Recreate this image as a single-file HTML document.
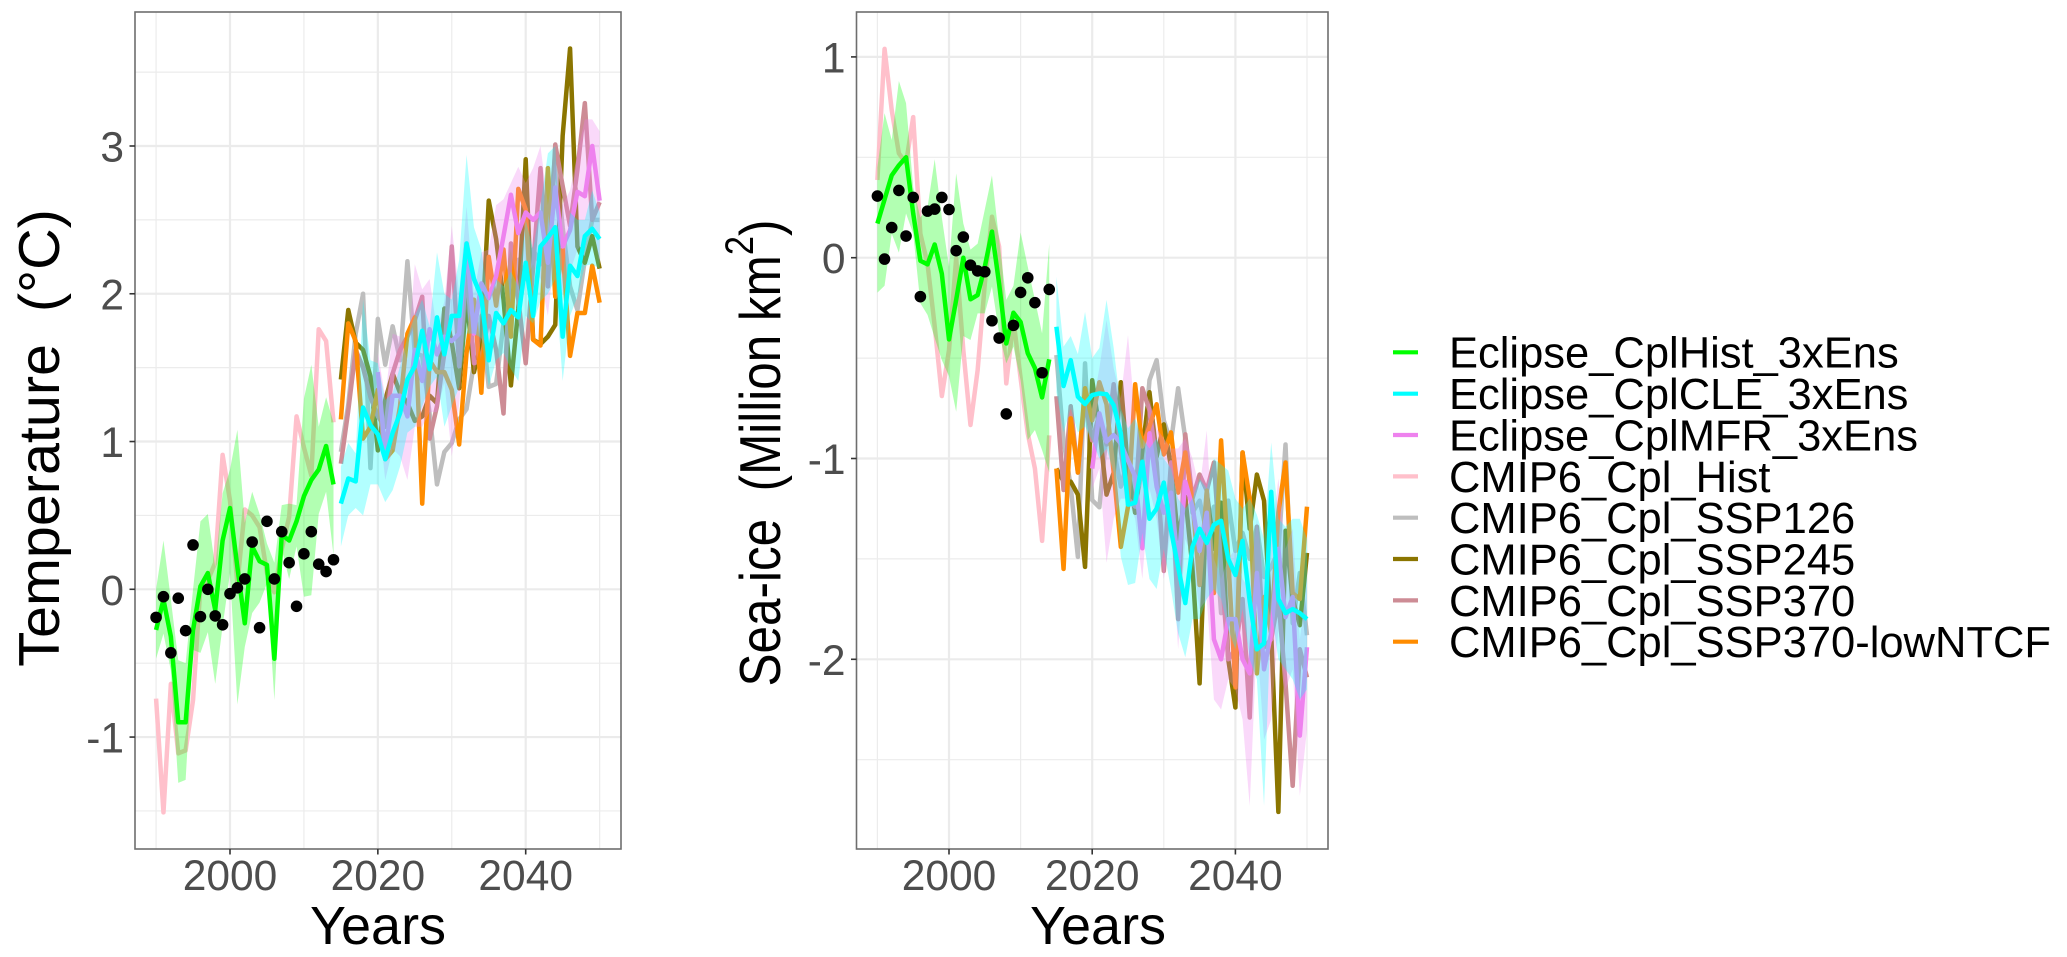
<!DOCTYPE html>
<html lang="en">
<head>
<meta charset="utf-8">
<title>Temperature and sea-ice projections</title>
<style>
html,body{margin:0;padding:0;background:#fff;}
svg{display:block;font-family:"Liberation Sans",sans-serif;}
text{white-space:pre;}
</style>
</head>
<body>
<svg id="figure" xmlns="http://www.w3.org/2000/svg" width="2067" height="957" viewBox="0 0 2067 957">
  <rect x="0" y="0" width="2067" height="957" fill="#ffffff"/>
  <g id="panel-temp"></g>
  <g id="panel-ice"></g>

  <text transform="translate(59,438) rotate(-90)" text-anchor="middle" font-size="57.5" fill="#000">Temperature  (°C)</text>
  <text transform="translate(780,453) rotate(-90) scale(0.86,1)" text-anchor="middle" font-size="57.5" fill="#000">Sea-ice  (Million km<tspan font-size="40" dy="-27">2</tspan><tspan dy="27">)</tspan></text>
  <text x="378" y="944" text-anchor="middle" font-size="54" fill="#000">Years</text>
  <text x="1098" y="944" text-anchor="middle" font-size="54" fill="#000">Years</text>

  <g font-size="43.5" fill="#000">
    <g><line x1="1393" x2="1418" y1="352.3" y2="352.3" stroke="#00ff00" stroke-width="4.2"/><text x="1449" y="367.7">Eclipse_CplHist_3xEns</text></g>
    <g><line x1="1393" x2="1418" y1="393.7" y2="393.7" stroke="#00ffff" stroke-width="4.2"/><text x="1449" y="409">Eclipse_CplCLE_3xEns</text></g>
    <g><line x1="1393" x2="1418" y1="435" y2="435" stroke="#ee82ee" stroke-width="4.2"/><text x="1449" y="450.4">Eclipse_CplMFR_3xEns</text></g>
    <g><line x1="1393" x2="1418" y1="476.4" y2="476.4" stroke="#ffc0cb" stroke-width="4.2"/><text x="1449" y="491.8">CMIP6_Cpl_Hist</text></g>
    <g><line x1="1393" x2="1418" y1="517.7" y2="517.7" stroke="#bebebe" stroke-width="4.2"/><text x="1449" y="533.1">CMIP6_Cpl_SSP126</text></g>
    <g><line x1="1393" x2="1418" y1="559" y2="559" stroke="#8b7500" stroke-width="4.2"/><text x="1449" y="574.5">CMIP6_Cpl_SSP245</text></g>
    <g><line x1="1393" x2="1418" y1="600.4" y2="600.4" stroke="#cd8c95" stroke-width="4.2"/><text x="1449" y="615.8">CMIP6_Cpl_SSP370</text></g>
    <g><line x1="1393" x2="1418" y1="641.7" y2="641.7" stroke="#ff8c00" stroke-width="4.2"/><text x="1449" y="657.2">CMIP6_Cpl_SSP370-lowNTCF</text></g>
  </g>
</svg>

<script>
// ---- axis tick values ----
const xMajorTicks = [2000, 2020, 2040];
const xMinorTicks = [1990, 2010, 2030, 2050];
const tempYMajor = [-1, 0, 1, 2, 3];
const tempYMinor = [-1.5, -0.5, 0.5, 1.5, 2.5, 3.5];
const iceYMajor = [-2, -1, 0, 1];
const iceYMinor = [-2.5, -1.5, -0.5, 0.5];

// ---- series start years ----
const histStart = 1990;
const scenarioStart = 2015;
const mfrStart = 2020;

// ---- temperature, 1990-2014 ----
const tempObs = [-0.19,-0.05,-0.43,-0.06,-0.28,0.30,-0.185,0,-0.18,-0.24,-0.03,0.01,0.07,0.32,-0.26,0.46,0.07,0.39,0.18,-0.115,0.24,0.39,0.17,0.12,0.20];
const tempCplHist = [-0.275,-0.07,-0.32,-0.90,-0.90,-0.275,0.02,0.11,-0.14,0.33,0.55,0.15,-0.23,0.29,0.19,0.165,-0.47,0.37,0.33,0.46,0.63,0.74,0.81,0.97,0.71];
const tempCplHistUpper = [0,0.33,-0.07,-0.48,-0.5,0,0.46,0.51,0.15,0.65,0.81,1.08,0.45,0.66,0.51,0.31,0.18,0.57,0.58,0.57,1.29,1.52,1.10,1.30,1.13];
const tempCplHistLower = [-0.47,-0.3,-0.55,-1.31,-1.29,-0.41,-0.43,-0.29,-0.64,-0.25,0.11,-0.78,-0.39,-0.16,-0.09,0.04,-0.75,0.27,0.07,0.29,-0.05,-0.04,0.51,0.66,0.23];
const tempCmipHist = [-0.74,-1.51,-0.64,-1.11,-1.09,-0.75,0.02,0.06,0.18,0.91,0.6,0.04,0.54,0.50,0.42,0.11,-0.02,0.27,0.49,1.17,0.96,0.77,1.76,1.68,1.13];

// ---- temperature, 2015-2050 ----
const tempCle = [0.58,0.75,0.73,1.23,1.11,1.05,0.88,1.06,1.19,1.42,1.51,1.75,1.49,1.84,1.59,1.85,1.85,2.34,2.10,1.98,1.55,1.87,1.80,1.89,1.84,2.21,1.85,2.32,2.38,2.45,1.71,2.19,2.12,2.39,2.44,2.37];
const tempCleUpper = [0.83,0.99,0.92,1.96,1.55,1.53,1.28,1.33,1.51,1.71,1.85,1.96,1.78,2.28,2.0,1.96,2.23,2.94,2.45,2.3,1.95,2.1,2.05,2.15,2.05,2.5,2.3,2.6,2.95,3.0,2.1,2.55,2.5,2.5,2.7,2.55];
const tempCleLower = [0.29,0.50,0.55,0.50,0.71,0.71,0.59,0.67,0.83,1.06,1.1,1.24,1.37,1.44,1.1,1.24,1.37,1.73,1.73,1.7,1.37,1.55,1.6,1.49,1.41,1.85,1.80,1.95,2.0,2.1,1.41,1.85,1.98,2.19,2.2,2.17];
const tempSsp126 = [0.93,1.25,1.73,2.0,0.82,1.83,1.52,1.78,1.55,2.22,1.6,1.58,1.19,0.71,0.93,0.99,1.15,1.22,1.53,1.85,1.37,1.39,1.8,1.87,2.23,2.1,2.3,2.2,2.4,2.95,2.45,2.05,1.89,2.23,2.5,2.5];
const tempSsp245 = [1.42,1.89,1.67,1.62,1.44,0.94,1.28,1.46,1.33,1.26,1.14,1.17,1.31,1.26,1.9,1.67,1.36,1.98,1.47,1.67,2.63,2.37,1.96,1.38,1.9,2.91,1.69,1.66,1.71,1.79,3.07,3.66,2.32,2.21,2.39,2.17];
const tempSsp370 = [0.85,1.21,1.62,1.5,1.3,1.17,1.1,1.46,1.62,1.71,1.82,1.98,1.02,1.24,1.6,2.32,1.51,2.18,1.53,1.55,1.85,1.62,1.19,2.34,1.96,1.53,2.18,2.85,2.05,3.01,2.73,2.46,2.84,3.29,2.50,2.62];
const tempLowNtcf = [1.15,1.80,1.68,1.02,1.10,1.35,0.88,0.94,1.24,1.73,1.84,0.58,1.55,1.47,1.47,1.35,0.98,1.6,1.96,1.33,2.25,1.92,2.30,1.71,2.71,2.57,1.69,1.65,2.85,1.98,2.30,1.58,1.87,1.87,2.19,1.94];

// ---- temperature, 2020-2050 ----
const tempMfr = [1.47,0.92,1.31,1.31,1.17,1.62,1.41,1.76,1.59,1.71,1.68,1.73,2.34,1.73,2.07,1.97,2.12,2.39,2.67,2.41,2.55,2.50,2.55,2.21,2.72,2.32,2.43,2.69,2.66,3.00,2.63];
const tempMfrUpper = [1.6,1.3,1.73,1.71,1.55,2.2,2.03,2.1,1.75,1.95,2.46,2.0,2.59,2.0,2.28,2.3,2.6,2.64,2.75,2.86,2.75,2.85,3.0,2.6,2.9,2.6,2.7,2.95,3.18,3.18,3.1];
const tempMfrLower = [1.2,0.74,0.95,0.9,0.74,1.1,1.1,1.2,1.2,1.4,0.9,1.25,1.9,1.45,1.7,1.6,1.75,2.1,2.3,2.0,2.1,2.2,2.1,1.85,2.3,2.0,2.15,2.3,2.35,2.5,2.2];

// ---- sea ice, 1990-2014 ----
const iceObs = [0.307,-0.007,0.15,0.335,0.108,0.30,-0.194,0.232,0.242,0.30,0.24,0.035,0.103,-0.037,-0.066,-0.07,-0.314,-0.40,-0.778,-0.337,-0.173,-0.10,-0.224,-0.573,-0.158];
const iceCplHist = [0.17,0.29,0.41,0.46,0.50,0.22,-0.015,-0.033,0.066,-0.08,-0.407,-0.21,0,-0.207,-0.186,-0.045,0.13,-0.13,-0.427,-0.274,-0.32,-0.476,-0.55,-0.696,-0.506];
const iceCplHistUpper = [0.45,0.72,0.586,0.88,0.77,0.35,0.2,0.25,0.49,0.2,-0.045,0.42,0.17,0.04,0.07,0.24,0.41,0.09,-0.21,-0.14,0.126,-0.045,-0.21,-0.377,0.07];
const iceCplHistLower = [-0.174,-0.14,0.12,0.025,0.22,0.12,-0.227,-0.285,-0.40,-0.51,-0.59,-0.767,-0.39,-0.41,-0.277,-0.277,-0.144,-0.377,-0.526,-0.443,-0.61,-0.908,-0.858,-0.958,-1.07];
const iceCmipHist = [0.387,1.04,0.735,0.52,0.47,0.70,0.12,-0.03,-0.34,-0.689,-0.46,-0.003,-0.46,-0.833,-0.56,-0.13,0.204,0.055,-0.626,-0.31,-0.6,-0.875,-1.05,-1.41,-0.885];

// ---- sea ice, 2015-2050 ----
const iceCle = [-0.344,-0.639,-0.51,-0.692,-0.729,-0.684,-0.676,-0.68,-0.734,-0.875,-1.23,-1.22,-1.016,-1.30,-1.25,-1.12,-1.356,-1.54,-1.72,-1.44,-1.35,-1.42,-1.33,-1.31,-1.50,-1.58,-1.41,-1.71,-1.95,-1.92,-1.166,-1.70,-1.77,-1.75,-1.77,-1.80];
const iceCleUpper = [-0.095,-0.443,-0.39,-0.48,-0.27,-0.5,-0.45,-0.21,-0.45,-0.75,-0.85,-0.8,-0.9,-0.95,-0.9,-1.0,-1.05,-1.2,-1.25,-1.2,-1.1,-1.15,-1.0,-1.03,-1.06,-1.2,-1.25,-1.2,-1.28,-1.4,-0.92,-1.3,-1.34,-1.3,-1.3,-1.4];
const iceCleLower = [-0.67,-0.87,-0.75,-0.87,-0.84,-0.91,-1.0,-0.95,-1.07,-1.49,-1.63,-1.62,-1.37,-1.6,-1.65,-1.45,-1.65,-1.87,-1.99,-1.8,-1.8,-1.7,-1.65,-1.7,-1.85,-1.95,-1.75,-2.0,-2.1,-2.73,-1.75,-2.0,-2.05,-2.1,-2.2,-2.15];
const iceSsp126 = [-0.485,-0.91,-1.14,-1.49,-0.526,-1.207,-1.243,-0.875,-0.95,-1.14,-1.0,-1.24,-1.05,-0.61,-0.51,-0.81,-0.92,-0.65,-0.9,-1.27,-1.21,-1.37,-1.24,-1.77,-1.21,-1.46,-1.37,-1.5,-1.34,-1.59,-1.54,-1.46,-0.93,-1.82,-1.57,-1.88];
const iceSsp245 = [-1.05,-1.115,-1.115,-1.18,-1.54,-0.61,-0.85,-1.18,-1.07,-0.62,-1.06,-1.27,-0.96,-0.67,-0.99,-0.83,-1.04,-1.4,-1.19,-1.54,-2.12,-1.17,-1.45,-1.22,-2.0,-2.24,-0.97,-1.35,-1.08,-1.21,-1.87,-2.76,-1.36,-1.7,-1.83,-1.47];
const iceSsp370 = [-0.69,-1.157,-0.74,-1.07,-0.71,-0.91,-0.78,-0.93,-0.63,-0.96,-1.2,-1.24,-0.65,-0.76,-1.02,-1.56,-1.02,-1.80,-0.88,-1.2,-1.08,-1.16,-1.02,-1.54,-2.0,-1.95,-1.7,-2.29,-1.34,-1.94,-1.9,-1.7,-2.12,-2.63,-1.95,-2.09];
const iceLowNtcf = [-1.05,-1.55,-0.80,-1.07,-0.65,-0.81,-0.62,-0.73,-1.07,-1.44,-1.24,-0.63,-0.94,-0.84,-0.73,-0.98,-0.87,-1.17,-0.97,-1.21,-1.63,-1.16,-1.67,-0.91,-1.5,-2.14,-0.97,-1.2,-2.07,-1.69,-1.87,-1.27,-1.02,-1.67,-1.70,-1.24];

// ---- sea ice, 2020-2050 ----
const iceMfr = [-1.05,-0.775,-0.916,-0.883,-0.925,-1.01,-1.09,-1.447,-0.875,-1.14,-1.27,-1.17,-1.54,-1.115,-1.24,-1.46,-1.27,-1.90,-2.0,-1.80,-1.80,-2.0,-2.07,-1.57,-2.05,-1.87,-1.45,-1.79,-1.69,-2.38,-1.94];
const iceMfrUpper = [-0.75,-0.55,-0.31,-0.55,-0.7,-0.385,-0.8,-0.95,-0.7,-0.85,-0.9,-0.95,-0.95,-0.9,-1.0,-1.15,-0.86,-1.5,-1.6,-1.5,-1.45,-1.6,-1.65,-1.3,-1.6,-1.4,-1.1,-1.45,-1.35,-1.9,-1.6];
const iceMfrLower = [-1.15,-1.05,-1.52,-1.3,-1.2,-1.2,-1.3,-1.6,-1.15,-1.3,-1.6,-1.35,-1.95,-1.4,-1.5,-1.75,-1.7,-2.2,-2.25,-2.1,-2.15,-2.3,-2.73,-1.9,-2.4,-2.3,-1.85,-2.15,-2.05,-2.68,-2.35];

const SVG_NS = 'http://www.w3.org/2000/svg';
const LINE_W = 4.5;

function mk(parent, tag, attrs) {
  const el = document.createElementNS(SVG_NS, tag);
  for (const k in attrs) el.setAttribute(k, attrs[k]);
  parent.appendChild(el);
  return el;
}

function linearAxis(d0, r0, d1, r1) {
  return function (v) { return r0 + (v - d0) * (r1 - r0) / (d1 - d0); };
}

function drawSeries(g, xs, ys, start, values, color) {
  const pts = values.map(function (v, i) { return xs(start + i).toFixed(2) + ',' + ys(v).toFixed(2); }).join(' ');
  const line = mk(g, 'polyline', { points: pts, fill: 'none', stroke: color, 'stroke-width': LINE_W, 'stroke-linejoin': 'round', 'stroke-linecap': 'butt' });
  
  
}

function drawRibbon(g, xs, ys, start, upper, lower, color) {
  const top = upper.map(function (v, i) { return xs(start + i).toFixed(2) + ',' + ys(v).toFixed(2); });
  const bottom = lower.map(function (v, i) { return xs(start + i).toFixed(2) + ',' + ys(v).toFixed(2); }).reverse();
  const band = mk(g, 'polygon', { points: top.concat(bottom).join(' '), fill: color, 'fill-opacity': 0.3, stroke: 'none' });
  
  
}

function drawPanel(g, box, xs, ys, yMajor, yMinor, d) {
  const bg = mk(g, 'rect', { x: box.l, y: box.t, width: box.r - box.l, height: box.b - box.t, fill: '#fff' });
  
  

  yMinor.forEach(function (v) {
    const l = mk(g, 'line', { x1: box.l, x2: box.r, y1: ys(v), y2: ys(v), stroke: '#ececec', 'stroke-width': 1.2 });
    
    
  });
  xMinorTicks.forEach(function (v) {
    const l = mk(g, 'line', { x1: xs(v), x2: xs(v), y1: box.t, y2: box.b, stroke: '#ececec', 'stroke-width': 1.2 });
    
    
  });
  yMajor.forEach(function (v) {
    const l = mk(g, 'line', { x1: box.l, x2: box.r, y1: ys(v), y2: ys(v), stroke: '#ebebeb', 'stroke-width': 2.2 });
    
    
  });
  xMajorTicks.forEach(function (v) {
    const l = mk(g, 'line', { x1: xs(v), x2: xs(v), y1: box.t, y2: box.b, stroke: '#ebebeb', 'stroke-width': 2.2 });
    
    
  });

  drawSeries(g, xs, ys, histStart, d.cmipHist, '#ffc0cb');
  drawSeries(g, xs, ys, scenarioStart, d.ssp126, '#bebebe');
  drawSeries(g, xs, ys, scenarioStart, d.ssp245, '#8b7500');
  drawSeries(g, xs, ys, scenarioStart, d.ssp370, '#cd8c95');
  drawSeries(g, xs, ys, scenarioStart, d.lowNtcf, '#ff8c00');
  drawRibbon(g, xs, ys, mfrStart, d.mfrUpper, d.mfrLower, '#ee82ee');
  drawSeries(g, xs, ys, mfrStart, d.mfr, '#ee82ee');
  drawRibbon(g, xs, ys, histStart, d.histUpper, d.histLower, '#00ff00');
  drawSeries(g, xs, ys, histStart, d.hist, '#00ff00');
  drawRibbon(g, xs, ys, scenarioStart, d.cleUpper, d.cleLower, '#00ffff');
  drawSeries(g, xs, ys, scenarioStart, d.cle, '#00ffff');

  d.obs.forEach(function (v, i) {
    const c = mk(g, 'circle', { cx: xs(histStart + i), cy: ys(v), r: 5.8, fill: '#000' });
    
    
  });

  const border = mk(g, 'rect', { x: box.l, y: box.t, width: box.r - box.l, height: box.b - box.t, fill: 'none', stroke: '#6e6e6e', 'stroke-width': 1.6 });
  
  

  yMajor.forEach(function (v) {
    const t = mk(g, 'line', { x1: box.l - 5.5, x2: box.l, y1: ys(v), y2: ys(v), stroke: '#333', 'stroke-width': 1.6 });
    
    
    const lab = mk(g, 'text', { x: box.l - 11, y: ys(v) + 15.5, 'text-anchor': 'end', 'font-size': 42.5, fill: '#4d4d4d' });
    
    
    lab.textContent = String(v);
  });
  xMajorTicks.forEach(function (v) {
    const t = mk(g, 'line', { x1: xs(v), x2: xs(v), y1: box.b, y2: box.b + 5.5, stroke: '#333', 'stroke-width': 1.6 });
    
    
    const lab = mk(g, 'text', { x: xs(v), y: box.b + 41, 'text-anchor': 'middle', 'font-size': 42.5, fill: '#4d4d4d' });
    
    
    lab.textContent = String(v);
  });
}

const tempBox = { l: 135, r: 621, t: 12, b: 849 };
const iceBox = { l: 856.5, r: 1328, t: 12, b: 849 };

drawPanel(document.getElementById('panel-temp'), tempBox,
  linearAxis(2000, 230, 2040, 525.7), linearAxis(0, 589.3, 3, 146),
  tempYMajor, tempYMinor,
  { obs: tempObs, hist: tempCplHist, histUpper: tempCplHistUpper, histLower: tempCplHistLower, cmipHist: tempCmipHist,
    cle: tempCle, cleUpper: tempCleUpper, cleLower: tempCleLower, ssp126: tempSsp126, ssp245: tempSsp245, ssp370: tempSsp370, lowNtcf: tempLowNtcf,
    mfr: tempMfr, mfrUpper: tempMfrUpper, mfrLower: tempMfrLower });

drawPanel(document.getElementById('panel-ice'), iceBox,
  linearAxis(2000, 949, 2040, 1235.4), linearAxis(0, 257.7, -2, 659.3),
  iceYMajor, iceYMinor,
  { obs: iceObs, hist: iceCplHist, histUpper: iceCplHistUpper, histLower: iceCplHistLower, cmipHist: iceCmipHist,
    cle: iceCle, cleUpper: iceCleUpper, cleLower: iceCleLower, ssp126: iceSsp126, ssp245: iceSsp245, ssp370: iceSsp370, lowNtcf: iceLowNtcf,
    mfr: iceMfr, mfrUpper: iceMfrUpper, mfrLower: iceMfrLower });
</script>
</body>
</html>
